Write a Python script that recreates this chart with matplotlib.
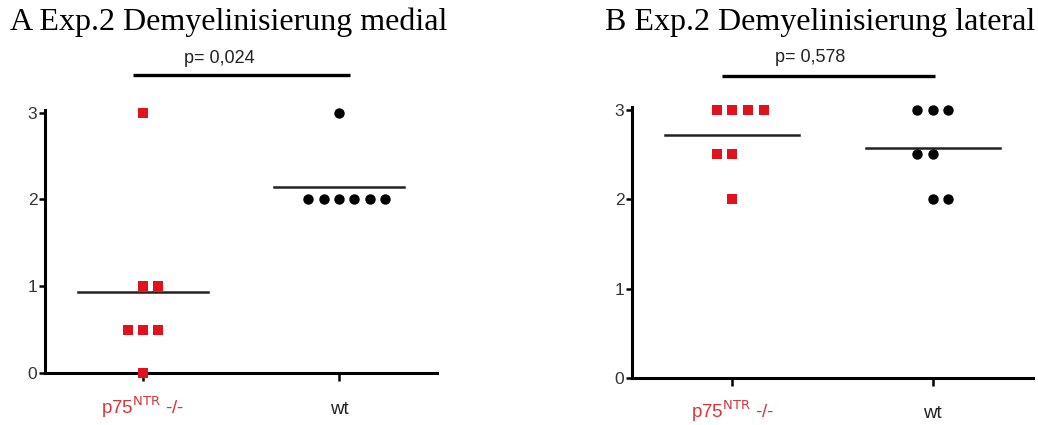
import matplotlib
matplotlib.use("Agg")
import matplotlib.pyplot as plt
import numpy as np

# ---- data ----
titles = ["A Exp.2 Demyelinisierung medial", "B Exp.2 Demyelinisierung lateral"]
p_texts = ["p= 0,024", "p= 0,578"]
categories = ["p75$^{\\mathrm{NTR}}$ -/-", "wt"]
medial_p75 = [3, 1, 1, 0.5, 0.5, 0.5, 0]
medial_wt = [3, 2, 2, 2, 2, 2, 2]
lateral_p75 = [3, 3, 3, 3, 2.5, 2.5, 2]
lateral_wt = [3, 3, 3, 2.5, 2.5, 2, 2]
yticks = [0, 1, 2, 3]

RED = "#e3101e"
RED_LABEL = "#d8343a"

W, H = 1038, 425
fig = plt.figure(figsize=(W / 100, H / 100), dpi=100)

def px_axes(left, right, top, bottom):
    return fig.add_axes([left / W, 1 - bottom / H, (right - left) / W, (bottom - top) / H])

panels = [
    dict(ax=px_axes(45, 437, 110, 373), data=[medial_p75, medial_wt], bar=(-0.05, 1.055),
         bar_y=3.43, txt_y=3.62, title_x=10, left_ties=set(), pad=23.5),
    dict(ax=px_axes(632, 1033, 107, 378), data=[lateral_p75, lateral_wt], bar=(-0.05, 1.01),
         bar_y=3.38, txt_y=3.58, title_x=605, left_ties={2.5}, pad=22.5),
]

spacing = 0.078
for i, p in enumerate(panels):
    ax = p["ax"]
    ax.set_xlim(-0.5, 1.5)
    ax.set_ylim(0, 3.03)
    for s in ["top", "right"]:
        ax.spines[s].set_visible(False)
    for s in ["left", "bottom"]:
        ax.spines[s].set_linewidth(2.2)
        ax.spines[s].set_color("black")
    ax.set_yticks(yticks)
    ax.set_yticklabels([str(t) for t in yticks], fontsize=12.5, color="#333333",
                       family="Liberation Sans")
    ax.set_xticks([0, 1])
    ax.set_xticklabels(categories, fontsize=13.5, family="Liberation Sans")
    for lbl, col in zip(ax.get_xticklabels(), [RED_LABEL, "#222222"]):
        lbl.set_color(col)
        lbl.set_verticalalignment("baseline")
    ax.tick_params(axis="y", length=4.5, width=1.8, pad=1)
    ax.tick_params(axis="x", length=6, width=1.8, pad=p["pad"])

    for gi, vals in enumerate(p["data"]):
        vals = np.array(vals, dtype=float)
        # arrange points at the same value side by side
        xs = np.zeros_like(vals)
        for v in np.unique(vals):
            idx = np.where(vals == v)[0]
            n = len(idx)
            start = (n - 1) // 2
            if n % 2 == 0 and v in p["left_ties"]:
                start = n // 2
            offs = (np.arange(n) - start) * spacing
            xs[idx] = gi + offs
        if gi == 0:
            ax.plot(xs, vals, linestyle="none", marker="s", markersize=7,
                    color=RED, markeredgewidth=0, clip_on=False, zorder=3)
        else:
            ax.plot(xs, vals, linestyle="none", marker="o", markersize=7.5,
                    color="black", markeredgewidth=0, clip_on=False, zorder=3)
        m = vals.mean()
        ax.plot([gi - 1 / 3, gi + 1 / 3], [m, m], color="#222222", lw=1.8, zorder=2)

    ax.plot(list(p["bar"]), [p["bar_y"]] * 2, color="black", lw=2.4, clip_on=False,
            solid_capstyle="butt")
    ax.text(0.39, p["txt_y"], p_texts[i], ha="center", va="center", fontsize=13,
            family="Liberation Sans", color="#222222", clip_on=False)

    fig.text(p["title_x"] / W, 1 - 30 / H, titles[i], family="Liberation Serif",
             fontsize=23, va="baseline", ha="left", color="black")

fig.savefig("out.png", dpi=100, facecolor="white")
